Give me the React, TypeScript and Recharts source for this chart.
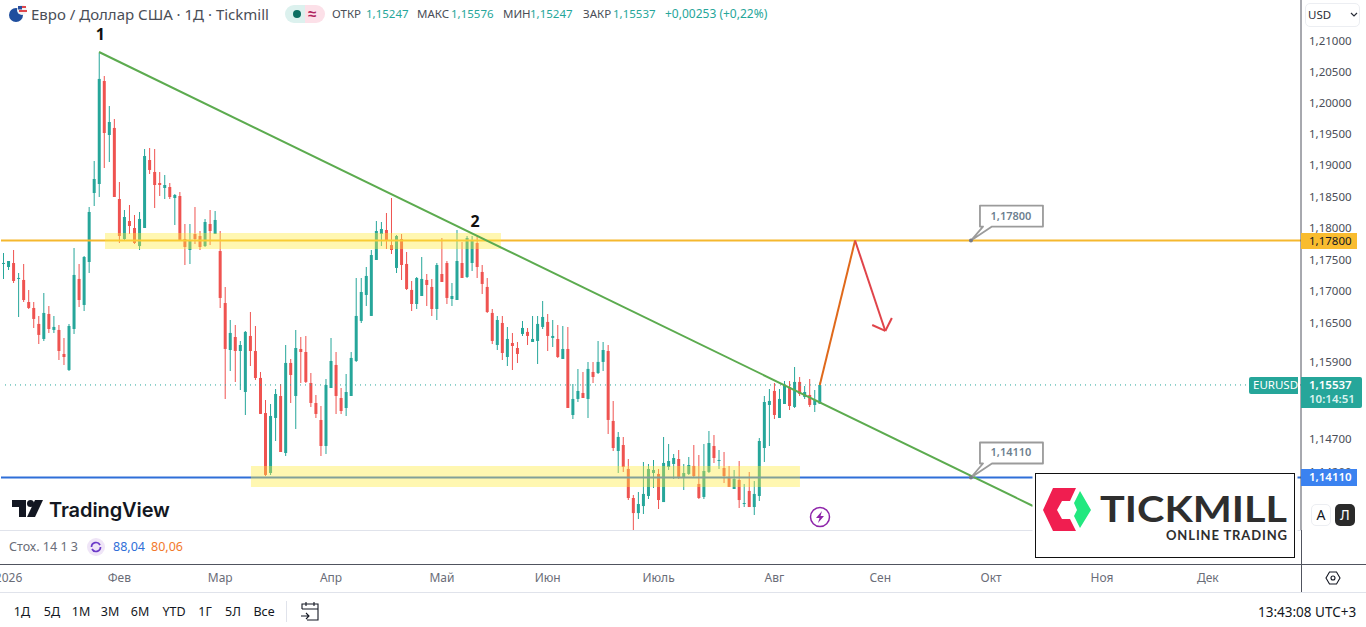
import {
  Bar,
  Cell,
  ComposedChart,
  ReferenceArea,
  ReferenceDot,
  ReferenceLine,
  XAxis,
  YAxis,
} from "recharts";

// ===== data =====
const opens = [
  1.1743, 1.17382, 1.17445, 1.17194, 1.17178, 1.16832, 1.16738, 1.16488, 1.16253, 1.16644,
  1.16394, 1.16394, 1.16019, 1.1577, 1.16409, 1.17194, 1.16785, 1.17461, 1.18555, 1.18698,
  1.20352, 1.19482, 1.19595, 1.18459, 1.17824, 1.1811, 1.17999, 1.17713, 1.17999, 1.19081,
  1.1889, 1.18714, 1.18634, 1.1865, 1.18475, 1.18507, 1.17824, 1.1765, 1.17904, 1.17872,
  1.17713, 1.18062, 1.17904, 1.17634, 1.16816, 1.16081, 1.16284, 1.16065, 1.15428, 1.163,
  1.16065, 1.15646, 1.15103, 1.14179, 1.15026, 1.15366, 1.14486, 1.15879, 1.15366, 1.16097,
  1.1605, 1.15568, 1.15258, 1.14995, 1.14594, 1.1549, 1.15848, 1.15335, 1.1518, 1.15366,
  1.1591, 1.16535, 1.16942, 1.16613, 1.17493, 1.17904, 1.17967, 1.17729, 1.17367, 1.17824,
  1.1743, 1.17021, 1.168, 1.16926, 1.17178, 1.17068, 1.16722, 1.17272, 1.17445, 1.16879,
  1.16863, 1.17445, 1.17225, 1.17445, 1.17761, 1.17304, 1.17068, 1.1666, 1.16159, 1.16503,
  1.15972, 1.16191, 1.16112, 1.16331, 1.16363, 1.16206, 1.16222, 1.16441, 1.16519, 1.16269,
  1.16253, 1.15941, 1.16097, 1.15072, 1.1532, 1.15413, 1.1532, 1.15739, 1.15723, 1.15895,
  1.16065, 1.1498, 1.14517, 1.14609, 1.14241, 1.13796, 1.13566, 1.13673, 1.13827, 1.14179,
  1.14164, 1.13734, 1.14271, 1.14317, 1.14394, 1.14103, 1.14164, 1.14287, 1.14011, 1.13812,
  1.14195, 1.14594, 1.14363, 1.14256, 1.14118, 1.13934, 1.14072, 1.13704, 1.13904, 1.13658,
  1.13827, 1.14563, 1.15227, 1.15444, 1.15026, 1.15242, 1.15506, 1.15196, 1.15584, 1.15351,
  1.15382, 1.15227, 1.15247,
];

const highs = [
  1.17603, 1.17477, 1.1765, 1.17288, 1.1743, 1.17021, 1.16832, 1.16613, 1.16973, 1.16769,
  1.16613, 1.16472, 1.16269, 1.16488, 1.17682, 1.1743, 1.17556, 1.18332, 1.19065, 1.20805,
  1.20433, 1.19949, 1.19739, 1.1873, 1.18284, 1.18364, 1.18205, 1.18253, 1.19257, 1.19273,
  1.19257, 1.1889, 1.18842, 1.18714, 1.18539, 1.18571, 1.18062, 1.18062, 1.18332, 1.17951,
  1.18142, 1.18284, 1.18269, 1.17951, 1.17068, 1.1655, 1.16472, 1.16222, 1.16378, 1.16675,
  1.16456, 1.15739, 1.15304, 1.15242, 1.15475, 1.15553, 1.16159, 1.15941, 1.16394, 1.16284,
  1.163, 1.15723, 1.15382, 1.15211, 1.1563, 1.16269, 1.1605, 1.1549, 1.15708, 1.1605,
  1.17209, 1.17209, 1.17382, 1.1765, 1.1811, 1.18094, 1.18237, 1.18475, 1.17888, 1.17904,
  1.17619, 1.17162, 1.17225, 1.1754, 1.17272, 1.17194, 1.17445, 1.1784, 1.17477, 1.17131,
  1.17967, 1.17777, 1.17872, 1.17872, 1.17872, 1.17414, 1.17209, 1.16722, 1.16613, 1.16613,
  1.16441, 1.16347, 1.16206, 1.16535, 1.16425, 1.16613, 1.16613, 1.16847, 1.16644, 1.1655,
  1.16472, 1.16456, 1.16441, 1.15553, 1.15786, 1.15739, 1.15895, 1.15895, 1.16222, 1.16206,
  1.16159, 1.15289, 1.1481, 1.14733, 1.14394, 1.13842, 1.13888, 1.14348, 1.14317, 1.14379,
  1.14241, 1.14733, 1.14625, 1.14471, 1.14532, 1.14317, 1.14425, 1.14609, 1.14455, 1.14625,
  1.14825, 1.14764, 1.14532, 1.14501, 1.14287, 1.14225, 1.14363, 1.14011, 1.14195, 1.14057,
  1.14717, 1.15366, 1.15475, 1.15568, 1.15475, 1.15599, 1.15599, 1.15817, 1.15661, 1.15521,
  1.1563, 1.15459, 1.15576,
];

const lows = [
  1.17194, 1.17335, 1.17131, 1.16597, 1.16832, 1.16722, 1.16425, 1.16175, 1.16222, 1.16347,
  1.16347, 1.15926, 1.15848, 1.15755, 1.16331, 1.16754, 1.16691, 1.17288, 1.18348, 1.18491,
  1.18954, 1.19049, 1.18491, 1.17761, 1.17793, 1.17904, 1.17745, 1.1765, 1.17999, 1.18858,
  1.18316, 1.18507, 1.18459, 1.18459, 1.18047, 1.17793, 1.17414, 1.1743, 1.17745, 1.1765,
  1.17698, 1.17729, 1.17904, 1.16738, 1.1532, 1.15755, 1.15584, 1.15459, 1.15072, 1.15832,
  1.15615, 1.15088, 1.14133, 1.14149, 1.14671, 1.14501, 1.1444, 1.15258, 1.14856, 1.15568,
  1.15568, 1.15196, 1.15026, 1.1444, 1.14471, 1.1549, 1.15088, 1.15088, 1.15057, 1.15366,
  1.15895, 1.16503, 1.16769, 1.16613, 1.17493, 1.17713, 1.17666, 1.17587, 1.17288, 1.17178,
  1.17021, 1.16691, 1.16722, 1.16926, 1.16769, 1.16613, 1.1655, 1.17146, 1.168, 1.16769,
  1.16863, 1.17209, 1.17209, 1.17319, 1.17209, 1.16958, 1.1666, 1.16175, 1.16081, 1.15926,
  1.15832, 1.1577, 1.15879, 1.163, 1.16159, 1.16206, 1.15863, 1.16409, 1.16065, 1.16128,
  1.15957, 1.15941, 1.1518, 1.15011, 1.15273, 1.15335, 1.15026, 1.15568, 1.15708, 1.15755,
  1.14779, 1.14517, 1.14179, 1.14195, 1.13765, 1.13306, 1.13474, 1.13551, 1.13781, 1.1395,
  1.13627, 1.13734, 1.14225, 1.14088, 1.14088, 1.13919, 1.14149, 1.14118, 1.13781, 1.13781,
  1.14179, 1.14333, 1.14241, 1.14026, 1.13965, 1.13934, 1.13643, 1.13658, 1.13658, 1.13535,
  1.1375, 1.14348, 1.14594, 1.15011, 1.15026, 1.15242, 1.1515, 1.1518, 1.15366, 1.1532,
  1.15196, 1.15119, 1.15247,
];

const closes = [
  1.17445, 1.17477, 1.17162, 1.17209, 1.16863, 1.16738, 1.16566, 1.16316, 1.1666, 1.16409,
  1.16441, 1.16065, 1.15972, 1.16456, 1.17257, 1.16863, 1.1754, 1.18253, 1.18778, 1.20385,
  1.19514, 1.19691, 1.18491, 1.17872, 1.18173, 1.18031, 1.17761, 1.18142, 1.19145, 1.18922,
  1.18682, 1.18682, 1.18682, 1.18491, 1.18523, 1.17793, 1.17698, 1.17793, 1.17824, 1.17698,
  1.18094, 1.17951, 1.18126, 1.16895, 1.16097, 1.16347, 1.16065, 1.16159, 1.16363, 1.16065,
  1.15646, 1.15088, 1.14149, 1.15057, 1.15397, 1.14501, 1.15879, 1.15692, 1.16112, 1.1605,
  1.15584, 1.15258, 1.15088, 1.14594, 1.15537, 1.1591, 1.15366, 1.15134, 1.15428, 1.15957,
  1.16613, 1.16989, 1.17241, 1.17571, 1.17951, 1.17983, 1.17793, 1.1765, 1.17872, 1.17414,
  1.17036, 1.168, 1.17209, 1.17194, 1.17099, 1.16722, 1.17414, 1.17146, 1.16895, 1.16926,
  1.17477, 1.17209, 1.1784, 1.17809, 1.17382, 1.17115, 1.16675, 1.16222, 1.1655, 1.16034,
  1.16253, 1.16144, 1.16019, 1.16425, 1.163, 1.16253, 1.16488, 1.16597, 1.163, 1.163,
  1.15972, 1.16097, 1.1518, 1.1532, 1.15444, 1.15335, 1.15786, 1.15661, 1.15895, 1.16081,
  1.14995, 1.14563, 1.14733, 1.14271, 1.13796, 1.13566, 1.13704, 1.13858, 1.14241, 1.14225,
  1.13765, 1.14333, 1.14363, 1.14409, 1.14103, 1.14179, 1.14302, 1.14133, 1.13796, 1.1421,
  1.1464, 1.14409, 1.14379, 1.14133, 1.13965, 1.14088, 1.13765, 1.13719, 1.13658, 1.13858,
  1.14671, 1.15273, 1.15289, 1.15072, 1.1532, 1.15537, 1.15211, 1.15584, 1.15397, 1.15428,
  1.15227, 1.15304, 1.15537,
];

const yTicks = [
  1.21, 1.205, 1.2, 1.195, 1.19, 1.185, 1.18, 1.175, 1.17, 1.165, 1.159, 1.147, 1.142, 1.137,
];
const monthTicks = [1, 23, 43, 65, 87, 108, 130, 153, 174, 196, 218, 239];
const monthLabels = ["2026", "Фев", "Мар", "Апр", "Май", "Июн", "Июль", "Авг", "Сен", "Окт", "Ноя", "Дек"];
const rangeButtons = [
  ["1Д", 22], ["5Д", 52], ["1М", 81], ["3М", 110], ["6М", 140],
  ["YTD", 174], ["1Г", 205], ["5Л", 233], ["Все", 264],
] as const;

const lastPrice = 1.15537;
const resistance = 1.178;
const support = 1.1411;
const yDomain = [1.13308, 1.21668];

// drawings live on a fractional bar index, like the ones on the source chart
const resistanceZone = { x1: 20.14, x2: 98.72, y1: 1.17666, y2: 1.1792 };
const supportZone = { x1: 49.11, x2: 158.06, y1: 1.13965, y2: 1.14287 };
const trendLine = [{ x: 18.95, y: 1.20821 }, { x: 204.3, y: 1.13674 }];
const upMove = [{ x: 162, y: 1.15537 }, { x: 169, y: 1.178 }];
const downMove = [{ x: 169, y: 1.178 }, { x: 175, y: 1.16378 }];
const arrowLeft = [{ x: 172.4, y: 1.16471 }, { x: 175, y: 1.16378 }];
const arrowRight = [{ x: 176.3, y: 1.16581 }, { x: 175, y: 1.16378 }];
const callouts = [{ x: 192, y: 1.178 }, { x: 192, y: 1.1411 }];
const waveLabels = [{ x: 19, y: 1.21114, text: "1" }, { x: 93.4, y: 1.1811, text: "2" }];

// ===== helpers =====
const UP = "#26A69A";
const DOWN = "#EF5350";
const BAR_COUNT = 258;
const FONT = "'Noto Sans', sans-serif";
const comma = (v: number) => v.toFixed(5).replace(".", ",");

const rows = Array.from({ length: BAR_COUNT }, (_, i) =>
  i < opens.length
    ? {
        i,
        wick: [lows[i], highs[i]],
        body: [Math.min(opens[i], closes[i]), Math.max(opens[i], closes[i])],
        up: closes[i] >= opens[i],
      }
    : { i, wick: null, body: null, up: true },
);

// time labels sit under the stochastic pane, not right under the price pane
const MonthTick = ({ x, payload }: any) => (
  <text fill="#6a6d78" fontFamily={FONT} fontSize={12} textAnchor="middle" x={x} y={582}>
    {monthLabels[monthTicks.indexOf(Number(payload.value))] ?? ""}
  </text>
);

const Callout = ({ cx, cy, value }: any) => (
  <g>
    <path
      d={`M${cx} ${cy} L${cx + 12} ${cy - 14} H${cx + 9} V${cy - 35} H${cx + 72} V${cy - 14} H${cx + 21} Z`}
      fill="#fff"
      stroke="#9b9b9b"
      strokeLinejoin="round"
      strokeWidth={1.8}
    />
    <circle cx={cx} cy={cy} fill="#787b86" r={2} />
    <text
      fill="#6d7f90"
      fontFamily={FONT}
      fontSize={11}
      fontWeight={600}
      textAnchor="middle"
      x={cx + 40}
      y={cy - 21}
    >
      {value}
    </text>
  </g>
);

const WaveLabel = ({ cx, cy, text }: any) => (
  <text fill="#111" fontFamily={FONT} fontSize={16} fontWeight={700} textAnchor="middle" x={cx + 1} y={cy + 6}>
    {text}
  </text>
);

const box = (left: number, top: number, width: number, height: number, extra = {}) => ({
  position: "absolute" as const,
  left,
  top,
  width,
  height,
  ...extra,
});

const Txt = ({ x, y, size = 12, color = "#4a4e57", weight = 400, children }: any) => (
  <div
    style={{
      position: "absolute",
      left: x,
      top: y,
      fontSize: size,
      lineHeight: "16px",
      color,
      fontWeight: weight,
      whiteSpace: "nowrap",
    }}
  >
    {children}
  </div>
);

const Ohlc = [
  ["ОТКР", 332, 1.15247, 366],
  ["МАКС", 417, 1.15576, 451],
  ["МИН", 503, 1.15247, 530],
  ["ЗАКР", 583, 1.15537, 613],
] as const;

// ===== chart =====
export default function App() {
  return (
    <div
      style={{
        position: "absolute",
        left: 0,
        top: 0,
        width: 1366,
        height: 627,
        overflow: "hidden",
        background: "#fff",
        fontFamily: FONT,
      }}
    >
      <ComposedChart
        data={rows}
        height={627}
        margin={{ top: 0, right: 0, left: 1, bottom: 0 }}
        width={1366}
      >
        <XAxis
          axisLine={false}
          dataKey="i"
          height={97}
          interval={0}
          tick={MonthTick}
          tickLine={false}
          ticks={monthTicks}
          xAxisId="wick"
        />
        <XAxis dataKey="i" hide xAxisId="body" />
        <XAxis dataKey="i" domain={[-0.5, BAR_COUNT - 0.5]} hide type="number" xAxisId="draw" />
        <YAxis
          allowDataOverflow
          axisLine={{ stroke: "#50535e" }}
          domain={yDomain}
          orientation="right"
          scale="log"
          tick={{ fill: "#4a4e57", fontSize: 11.5, fontFamily: FONT }}
          tickFormatter={comma}
          tickLine={false}
          tickMargin={2}
          ticks={yTicks}
          type="number"
          width={65}
        />

        <Bar barSize={1} dataKey="wick" isAnimationActive={false} xAxisId="wick">
          {rows.map((r) => (
            <Cell fill={r.up ? UP : DOWN} key={r.i} />
          ))}
        </Bar>
        <Bar barSize={3} dataKey="body" isAnimationActive={false} minPointSize={1} xAxisId="body">
          {rows.map((r) => (
            <Cell fill={r.up ? UP : DOWN} key={r.i} />
          ))}
        </Bar>

        <ReferenceLine stroke={UP} strokeDasharray="1 4" xAxisId="draw" y={lastPrice} />
        <ReferenceLine stroke="#F5B82E" strokeWidth={2} xAxisId="draw" y={resistance} />
        <ReferenceLine stroke="#2F6FD8" strokeWidth={2} xAxisId="draw" y={support} />
        <ReferenceArea {...resistanceZone} fill="#FFEB3B" fillOpacity={0.4} stroke="none" xAxisId="draw" zIndex={450} />
        <ReferenceArea {...supportZone} fill="#FFEB3B" fillOpacity={0.4} stroke="none" xAxisId="draw" zIndex={450} />
        <ReferenceLine segment={trendLine} stroke="#5CAB4F" strokeWidth={2} xAxisId="draw" zIndex={500} />
        <ReferenceLine segment={upMove} stroke="#E0691B" strokeWidth={2} xAxisId="draw" zIndex={500} />
        <ReferenceLine segment={downMove} stroke="#E0444A" strokeWidth={2} xAxisId="draw" zIndex={500} />
        <ReferenceLine segment={arrowLeft} stroke="#E0444A" strokeWidth={2} xAxisId="draw" zIndex={500} />
        <ReferenceLine segment={arrowRight} stroke="#E0444A" strokeWidth={2} xAxisId="draw" zIndex={500} />

        {callouts.map((c) => (
          <ReferenceDot
            key={c.y}
            shape={(p: any) => <Callout {...p} value={comma(c.y)} />}
            x={c.x}
            xAxisId="draw"
            y={c.y}
            zIndex={600}
          />
        ))}
        {waveLabels.map((w) => (
          <ReferenceDot
            key={w.text}
            shape={(p: any) => <WaveLabel {...p} text={w.text} />}
            x={w.x}
            xAxisId="draw"
            y={w.y}
            zIndex={600}
          />
        ))}
      </ComposedChart>

      {/* pane borders */}
      <div style={box(0, 530, 1301, 1, { background: "#e0e3eb" })} />
      <div style={box(0, 564, 1366, 1, { background: "#50535e" })} />
      <div style={box(0, 592, 1366, 1, { background: "#e0e3eb" })} />
      <div style={box(1301, 530, 1, 62, { background: "#50535e" })} />

      {/* header */}
      <svg height={20} style={box(8, 4, 20, 20)} width={20}>
        <circle cx={8} cy={11} fill="#1f4e9e" r={7} />
        <circle cx={14} cy={6} fill="#f3f3f3" r={5} />
        <path d="M10 2 h8 v2 h-8z M11 6 h8 v2 h-8z" fill="#e0474c" />
        <rect fill="#2a4f9e" height={3.5} width={4} x={10} y={2} />
      </svg>
      <Txt color="#4a4e57" size={15} x={31} y={6}>
        Евро / Доллар США · 1Д · Tickmill
      </Txt>
      <div style={box(285, 5, 20, 18, { background: "#dcf1ee", borderRadius: "9px 0 0 9px" })} />
      <div style={box(305, 5, 20, 18, { background: "#fce0e8", borderRadius: "0 9px 9px 0" })} />
      <div style={box(293, 10, 8, 8, { background: "#0d6e62", borderRadius: 4 })} />
      <Txt color="#b0255e" size={15} weight={700} x={308} y={5}>
        ≈
      </Txt>
      {Ohlc.map(([label, lx, value, vx]) => (
        <span key={label}>
          <Txt size={11.5} x={lx} y={6}>{label}</Txt>
          <Txt color={UP} size={11.5} x={vx} y={6}>{comma(value)}</Txt>
        </span>
      ))}
      <Txt color={UP} size={12} x={665} y={6}>+0,00253 (+0,22%)</Txt>

      {/* price scale extras */}
      <div style={box(1305, 3, 55, 24, { background: "#fff", border: "1px solid #eceef2", borderRadius: 5, boxSizing: "border-box" })} />
      <Txt color="#2a2e39" size={11.5} x={1308} y={7}>USD</Txt>
      <svg height={6} style={box(1350, 12, 8, 6)} width={8}>
        <path d="M1 1 L4 4 L7 1" fill="none" stroke="#2a2e39" strokeWidth={1.2} />
      </svg>
      <div style={box(1301, 233, 56, 16, { background: "#F9BC2F" })} />
      <Txt color="#131722" size={11.5} x={1309} y={233}>1,17800</Txt>
      <div style={box(1249, 377, 49, 17, { background: UP, borderRadius: "2px 0 0 2px" })} />
      <Txt color="#fff" size={11.5} x={1253} y={377}>EURUSD</Txt>
      <div style={box(1301, 377, 61, 31, { background: UP, borderRadius: "0 2px 2px 0" })} />
      <Txt color="#fff" size={11.5} weight={600} x={1309} y={377}>1,15537</Txt>
      <Txt color="#d8f2ee" size={11.5} weight={600} x={1309} y={391}>10:14:51</Txt>
      <div style={box(1301, 469, 56, 17, { background: "#3B82F0" })} />
      <Txt color="#fff" size={11.5} weight={600} x={1309} y={469}>1,14110</Txt>
      <div style={box(1302, 500, 64, 30, { background: "#fff" })} />
      <div style={box(1311, 504, 20, 22, { border: "1px solid #eceef2", borderRadius: 5, boxSizing: "border-box", color: "#131722", fontSize: 14, lineHeight: "20px", textAlign: "center" })}>A</div>
      <div style={box(1335, 504, 20, 22, { background: "#2a2a2a", borderRadius: 5, color: "#fff", fontSize: 14, lineHeight: "21px", textAlign: "center" })}>Л</div>

      {/* logos */}
      <svg height={24} style={box(10, 497, 36, 24)} width={36}>
        <path d="M2 3 H16 V20 H9 V10 H2 Z" fill="#131722" />
        <circle cx={20.5} cy={6.5} fill="#131722" r={3.5} />
        <path d="M25 3 H33 L25 20 H17 Z" fill="#131722" />
      </svg>
      <div style={box(49, 497, 125, 26, { color: "#131722", fontFamily: "Inter, sans-serif", fontSize: 20, fontWeight: 600, lineHeight: "26px", letterSpacing: "-0.1px" })}>
        TradingView
      </div>
      <svg height={24} style={box(808, 505, 24, 24)} width={24}>
        <circle cx={12} cy={12} fill="#fff" r={9.5} stroke="#8e24aa" strokeWidth={1.5} />
        <path d="M14 6 L8 13 H11.5 L10 18 L16 11 H12.5 Z" fill="#8e24aa" />
      </svg>
      <svg
        height={85}
        style={box(1035, 473, 260, 85, { background: "#fff", boxShadow: "0 0 0 2.5px #fff", outline: "1.5px solid #111", outlineOffset: -1.5 })}
        width={260}
      >
        <path d="M8 37 L18 15 H41 L35 28 H27 L22 37 L27 46 H35 L41 58 H18 Z" fill="#F01E50" />
        <path d="M45 18 L56 37 L45 55 L39 43 L42 37 L39 30 Z" fill="#22E87F" />
        <text fill="#2e2e2e" fontFamily="Lato, sans-serif" fontSize={37} fontWeight={700} lengthAdjust="spacingAndGlyphs" textLength={187} x={65} y={49}>
          TICKMILL
        </text>
        <text fill="#2e2e2e" fontFamily="Lato, sans-serif" fontSize={13} fontWeight={700} lengthAdjust="spacing" textLength={121} x={131} y={67}>
          ONLINE TRADING
        </text>
      </svg>

      {/* stochastic legend */}
      <Txt color="#6a6d78" size={12.5} x={9} y={539}>Стох. 14 1 3</Txt>
      <svg height={18} style={box(87, 538, 18, 18)} width={18}>
        <circle cx={9} cy={9} fill="#efe5f7" r={9} />
        <path d="M4.5 9 A4.5 4.5 0 0 1 13 7 M13.5 9 A4.5 4.5 0 0 1 5 11" fill="none" stroke="#6a39c8" strokeWidth={1.7} />
      </svg>
      <Txt color="#2F6FD8" size={12.5} x={113} y={539}>88,04</Txt>
      <Txt color="#F2792B" size={12.5} x={151} y={539}>80,06</Txt>

      {/* bottom toolbar */}
      {rangeButtons.map(([label, cx]) => (
        <div
          key={label}
          style={{ position: "absolute", left: cx - 20, top: 604, width: 40, color: "#131722", fontSize: 12.5, lineHeight: "16px", textAlign: "center" }}
        >
          {label}
        </div>
      ))}
      <div style={box(286, 601, 1, 21, { background: "#e0e3eb" })} />
      <svg height={22} style={box(299, 601, 22, 22)} width={22}>
        <path d="M3 8 H19 V19 H8 M3 8 V3 H19 V8 M7 1 V5 M15 1 V5 M2 15 H10 M7 12 L10 15 L7 18" fill="none" stroke="#131722" strokeWidth={1.1} />
      </svg>
      <Txt color="#131722" size={13.5} x={1258} y={604}>13:43:08 UTC+3</Txt>
      <svg height={16} style={box(1325, 570, 16, 16)} width={16}>
        <path d="M4.5 2 H11.5 L15 8 L11.5 14 H4.5 L1 8 Z" fill="none" stroke="#131722" strokeWidth={1.1} />
        <circle cx={8} cy={8} fill="none" r={2} stroke="#131722" strokeWidth={1.1} />
      </svg>
    </div>
  );
}
